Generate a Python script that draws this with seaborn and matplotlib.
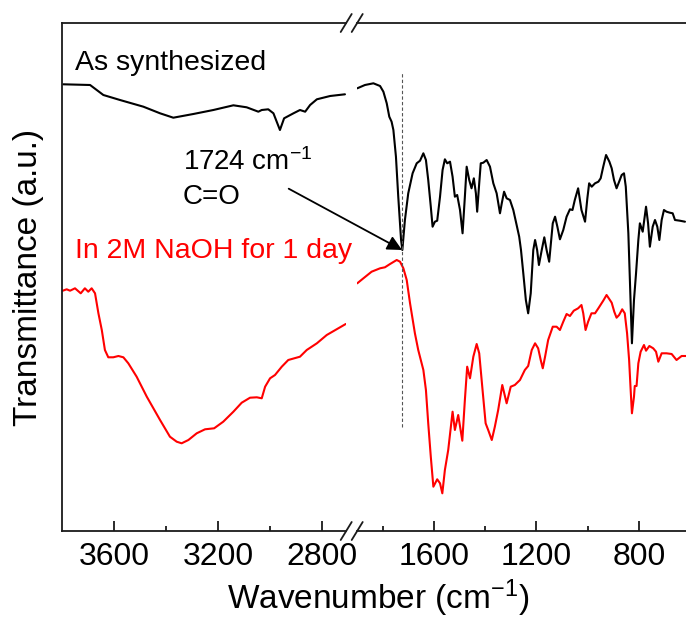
import matplotlib
matplotlib.use("Agg")
import matplotlib.pyplot as plt
import seaborn as sns
from matplotlib.lines import Line2D
from matplotlib.ticker import FixedLocator

# ---------------- data ----------------
# As synthesized, high-wavenumber segment
black_hi_wn = [3795, 3692, 3641, 3577, 3487, 3423, 3372, 3295, 3218, 3141, 3090, 3045,
               3032, 3007, 2987, 2962, 2946, 2910, 2885, 2865, 2846, 2820, 2769, 2712]
black_hi_t = [446.7, 446, 436, 431, 424.3, 417.7, 413.3, 417, 421, 425.7, 423.7, 419.3,
              421, 421.7, 417.7, 401, 412.7, 417.7, 421, 419.3, 426, 431.7, 435, 436.7]

# As synthesized, fingerprint segment
black_lo_wn = [1899, 1869, 1836, 1810, 1797, 1784, 1774, 1765, 1758, 1748, 1739, 1728, 1723,
               1713, 1700, 1683, 1667, 1654, 1641, 1631, 1622, 1612, 1605, 1596, 1587, 1576,
               1566, 1557, 1548, 1537, 1527, 1518, 1509, 1498, 1488, 1479, 1472, 1462, 1453,
               1444, 1436, 1431, 1423, 1417, 1407, 1394, 1381, 1368, 1355, 1342, 1335, 1326,
               1316, 1303, 1290, 1277, 1267, 1260, 1251, 1241, 1232, 1222, 1212, 1205, 1197,
               1190, 1179, 1169, 1160, 1150, 1136, 1127, 1118, 1108, 1095, 1082, 1069, 1059,
               1050, 1037, 1024, 1010, 1001, 994, 984, 971, 958, 949, 939, 928, 915, 906, 897,
               887, 877, 867, 858, 851, 841, 835, 827, 819, 811, 802, 796, 785, 772, 764, 757,
               746, 737, 728, 720, 711, 702, 692, 679, 668, 659, 640, 620]
black_lo_t = [442.7, 446, 447.7, 445, 439.3, 427.7, 414.3, 409.3, 401, 374.3, 334.3, 291, 281,
              311, 337.7, 357.7, 367.7, 370.3, 377.7, 371, 351, 324.3, 304.3, 309.3, 310.3, 334.3,
              361, 371.7, 367.7, 369.3, 354.3, 334.3, 336, 321, 297.7, 334.3, 364.3, 351, 342.7,
              352.7, 337.7, 319.3, 347.7, 367.7, 368.3, 371, 364.3, 347.7, 337.7, 317.7, 327.7, 339.3,
              332.7, 331, 321, 306, 294.3, 281, 257.7, 231, 217.7, 237.7, 281, 291, 281,
              266, 281, 293.7, 281, 269.3, 307.7, 314.3, 304.3, 291.7, 301, 314.3, 321.7, 321,
              331, 342.7, 321, 309.3, 332.7, 347.7, 344.3, 347.7, 349.3, 352.7, 364.3, 376, 369.3, 362.7, 351,
              342.7, 349.3, 356, 357.7, 344.3, 297.7, 251, 187.7, 231, 257.7, 291, 307.7, 299.3, 324.3, 307.7, 284.3,
              304.3, 311, 304.3, 291, 311, 321, 319.3, 318.3, 317.7, 311, 310.3, 309.3]

# In 2M NaOH for 1 day, high-wavenumber segment
red_hi_wn = [3797, 3782, 3769, 3750, 3728, 3712, 3699, 3686, 3673, 3660, 3647, 3635, 3622,
             3603, 3583, 3564, 3545, 3513, 3474, 3423, 3385, 3359, 3340, 3314, 3282, 3250,
             3215, 3180, 3141, 3109, 3077, 3051, 3032, 3019, 3000, 2981, 2955, 2930, 2885,
             2859, 2820, 2782, 2709]
red_hi_t = [240.3, 241.7, 240.3, 242.7, 237.7, 242.7, 239.3, 242.7, 237.7, 217.7, 201, 181, 173.7,
            173.7, 175, 173.7, 167.7, 154.3, 134.3, 111, 94.3, 89.3, 87.7, 91, 97.7, 101.7,
            102.7, 109.3, 119.3, 128.3, 133.3, 133.7, 132.7, 144.3, 152.7, 156, 164.3, 171, 174.3,
            181, 187.7, 196, 207]

# In 2M NaOH for 1 day, fingerprint segment
red_lo_wn = [1899, 1875, 1843, 1810, 1791, 1771, 1745, 1732, 1719, 1706, 1693, 1674, 1661,
             1641, 1631, 1622, 1612, 1602, 1587, 1576, 1567, 1557, 1544, 1527, 1518, 1505,
             1489, 1479, 1470, 1459, 1446, 1433, 1423, 1410, 1398, 1388, 1374, 1362, 1349,
             1333, 1316, 1300, 1284, 1264, 1245, 1232, 1218, 1205, 1193, 1183, 1175, 1166,
             1154, 1136, 1121, 1108, 1095, 1082, 1069, 1054, 1037, 1024, 1017, 1008, 998, 985,
             971, 958, 939, 926, 906, 896, 887, 877, 865, 855, 846, 838, 832, 827, 819, 816,
             809, 802, 793, 780, 772, 759, 744, 733, 724, 711, 692, 672, 653, 633, 616]
red_lo_t = [247.7, 252.7, 259.3, 262.7, 263.7, 267, 271, 269.3, 262.7, 251, 227.7, 197.7, 181,
            161, 141, 107.7, 74.3, 44.3, 51.7, 47.7, 37.7, 61, 81, 119.3, 101, 116,
            90.3, 131, 164.3, 152.7, 174.3, 187, 177.7, 141, 107.7, 101, 91, 104.3, 121,
            146, 127.7, 144.3, 146, 151, 161, 165, 181, 187.7, 182.7, 171, 162.7, 174.3,
            191, 204.3, 204.3, 201, 209.3, 217, 215, 220.3, 222.7, 226, 217.7, 201, 209.3, 217.7,
            217.7, 222.7, 230.3, 236, 228.3, 219.3, 213.3, 216, 221.7, 217.7, 197.7, 171, 141, 117.7, 134.3, 145,
            145, 167.7, 179.3, 186, 180.3, 185, 182.7, 179.3, 169.3, 177.7, 177.7, 177, 171, 175, 175]

major_hi = [3600, 3200, 2800]
minor_hi = [3400, 3000]
major_lo = [1600, 1200, 800]
minor_lo = [1800, 1400, 1000]

# ---------------- style ----------------
sns.set_style("white")
plt.rcParams["font.family"] = ["Liberation Sans", "DejaVu Sans"]
plt.rcParams["text.color"] = "black"
plt.rcParams["xtick.color"] = "black"
plt.rcParams["xtick.labelcolor"] = "black"
plt.rcParams["axes.labelcolor"] = "black"
plt.rcParams["mathtext.fontset"] = "custom"
plt.rcParams["mathtext.rm"] = "Liberation Sans"
plt.rcParams["mathtext.it"] = "Liberation Sans:italic"
plt.rcParams["mathtext.bf"] = "Liberation Sans:bold"

W, H = 686, 619
fig = plt.figure(figsize=(W / 100, H / 100), dpi=100)

y_top_px, y_bot_px = 23, 531
left_px, break_l_px, break_r_px, right_px = 62, 346, 357, 686
bottom = (H - y_bot_px) / H
height = (y_bot_px - y_top_px) / H

ax1 = fig.add_axes([left_px / W, bottom, (break_l_px - left_px) / W, height])
ax2 = fig.add_axes([break_r_px / W, bottom, (right_px - break_r_px) / W, height])

spine_col = "#1a1a1a"
lw_sp = 1.3
line_w = 1.5

sns.lineplot(x=black_hi_wn, y=black_hi_t, ax=ax1, color="black", lw=line_w,
             sort=False, estimator=None, legend=False)
sns.lineplot(x=red_hi_wn, y=red_hi_t, ax=ax1, color="#ff0000", lw=line_w,
             sort=False, estimator=None, legend=False)
sns.lineplot(x=black_lo_wn, y=black_lo_t, ax=ax2, color="black", lw=line_w,
             sort=False, estimator=None, legend=False)
sns.lineplot(x=red_lo_wn, y=red_lo_t, ax=ax2, color="#ff0000", lw=line_w,
             sort=False, estimator=None, legend=False)

ax1.set_xlim(3800, 2708)
ax2.set_xlim(1900, 616)
for ax in (ax1, ax2):
    ax.set_ylim(0, y_bot_px - y_top_px)
    ax.set_yticks([])
    ax.set_ylabel("")
    ax.set_xlabel("")
    for s in ax.spines.values():
        s.set_color(spine_col)
        s.set_linewidth(lw_sp)
    ax.spines["right"].set_visible(False)
    ax.tick_params(axis="x", which="major", direction="in", length=7.2, width=lw_sp,
                   color=spine_col, labelcolor="black", labelsize=23, pad=8,
                   top=False, bottom=True)
    ax.tick_params(axis="x", which="minor", direction="in", length=3.8, width=lw_sp,
                   color=spine_col, top=False, bottom=True)
ax2.spines["left"].set_visible(False)

ax1.xaxis.set_major_locator(FixedLocator(major_hi))
ax1.xaxis.set_minor_locator(FixedLocator(minor_hi))
ax2.xaxis.set_major_locator(FixedLocator(major_lo))
ax2.xaxis.set_minor_locator(FixedLocator(minor_lo))
ax1.set_xticklabels([str(v) for v in major_hi])
ax2.set_xticklabels([str(v) for v in major_lo])

# dashed reference line at 1724
ax2.plot([1724, 1724], [y_bot_px - 427, y_bot_px - 72], color="#555555", lw=0.8,
         dashes=(3, 2))

# break marks
for xc in (break_l_px + 0.2, break_r_px + 0.2):
    for yc in (H - y_top_px, H - y_bot_px):
        fig.add_artist(Line2D([(xc - 5.5) / W, (xc + 5.5) / W],
                              [(yc - 9) / H, (yc + 9) / H],
                              transform=fig.transFigure, color=spine_col,
                              lw=lw_sp, clip_on=False))

# texts
fig.text(75 / W, (H - 70) / H, "As synthesized", fontsize=20.5, color="black",
         ha="left", va="baseline")
fig.text(75 / W, (H - 258) / H, "In 2M NaOH for 1 day", fontsize=20.5, color="#ff0000",
         ha="left", va="baseline")
fig.text(183 / W, (H - 170.5) / H, "1724 cm$^{-1}$", fontsize=20, color="black",
         ha="left", va="baseline")
fig.text(183 / W, (H - 204.5) / H, "C=O", fontsize=20, color="black",
         ha="left", va="baseline")

ax2.annotate("", xy=(1724, y_bot_px - 250), xycoords="data",
             xytext=(288.7 / W, (H - 188.7) / H), textcoords="figure fraction",
             arrowprops=dict(arrowstyle="-|>", color="black", lw=1.3,
                             mutation_scale=22, shrinkA=0, shrinkB=0),
             annotation_clip=False)

fig.text(29 / W, (H - 277) / H, "Transmittance (a.u.)", fontsize=24, rotation=90,
         ha="center", va="center", color="black")
fig.text(378 / W, (H - 609) / H, "Wavenumber (cm$^{-1}$)", fontsize=24,
         ha="center", va="baseline", color="black")

fig.savefig("out.png", dpi=100)
